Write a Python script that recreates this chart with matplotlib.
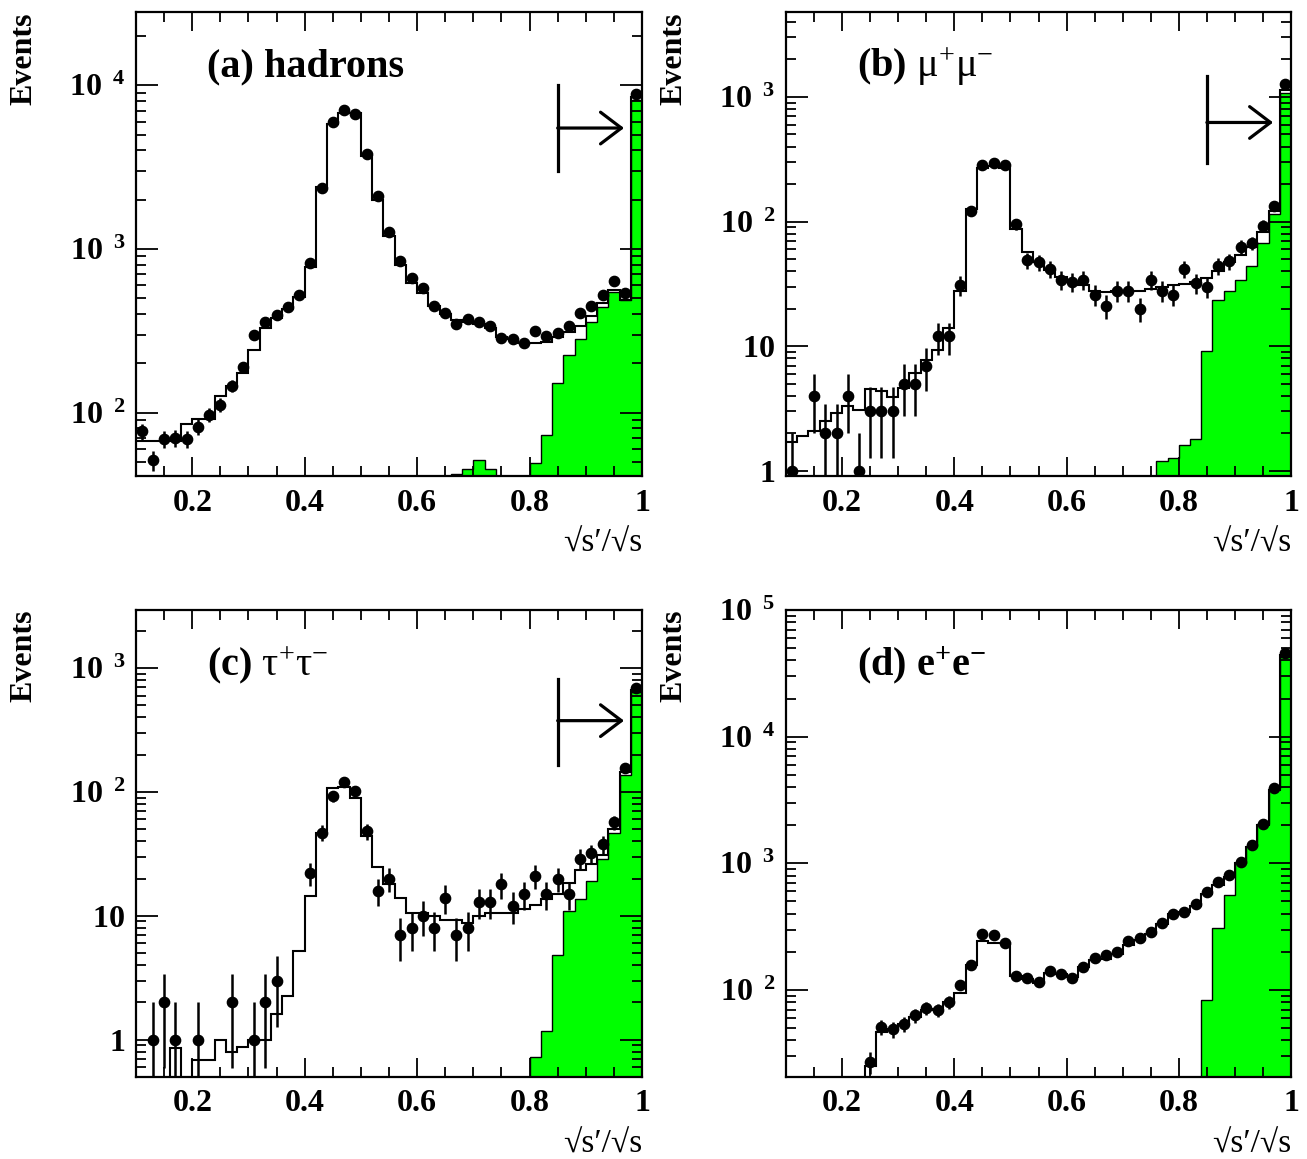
import numpy as np
import matplotlib
matplotlib.use("Agg")
import matplotlib.pyplot as plt
from matplotlib.ticker import LogLocator, MultipleLocator, FuncFormatter, NullFormatter

plt.rcParams["font.family"] = ["Liberation Serif", "DejaVu Serif"]
plt.rcParams["mathtext.fontset"] = "custom"
plt.rcParams["mathtext.rm"] = "Liberation Serif"
plt.rcParams["mathtext.bf"] = "Liberation Serif:bold"
plt.rcParams["mathtext.it"] = "Liberation Serif:italic"

# 45 bins of width 0.02 from 0.1 to 1.0 in sqrt(s')/sqrt(s)
edges = np.linspace(0.1, 1.0, 46)
centers = 0.5 * (edges[:-1] + edges[1:])

# ------------------------------
# (a) hadrons
# ------------------------------
hadrons_data = [77, 51, 69, 70, 69, 82, 97, 112, 146, 190,
                298, 360, 394, 442, 525, 817, 2355, 5980, 7060, 6720,
                3785, 2100, 1268, 838, 661, 580, 451, 404, 347, 374,
                358, 340, 284, 280, 268, 314, 294, 305, 339, 404,
                451, 520, 636, 541, 8810]
hadrons_mc = [67, 67, 67, 67, 85, 92, 92, 127, 145, 175,
              240, 330, 380, 430, 510, 780, 2400, 5800, 6800, 6800,
              3700, 2000, 1200, 800, 620, 540, 450, 400, 370, 360,
              350, 330, 290, 280, 265, 265, 270, 290, 310, 340,
              390, 470, 560, 490, 8500]
hadrons_bkg = [0] * 28 + [42, 45, 51, 45, 0, 0, 0,
                          49, 73, 152, 226, 283, 357, 443, 547, 488, 8100]

# ------------------------------
# (b) mu+ mu-
# ------------------------------
mumu_data = [1, 0, 4, 2, 2, 4, 1, 3, 3, 3,
             5, 5, 7, 12, 12, 31, 122, 283, 297, 283,
             96, 49, 47, 42, 34, 33, 34, 26, 21, 28,
             28, 20, 34, 28, 26, 42, 32, 30, 44, 48,
             63, 67, 93, 134, 1260]
mumu_mc = [1.7, 1.9, 2.1, 2.5, 2.9, 3.3, 3.1, 4.5, 4.4, 3.9,
           4.6, 6.1, 7.7, 9.3, 13.9, 27.7, 126, 268, 277, 268,
           87, 57, 47, 41, 36, 33, 31, 28, 27, 28,
           28, 28, 29, 30, 31, 31.6, 32.6, 35, 40, 47,
           54, 63, 83, 122, 1140]
mumu_bkg = [0] * 33 + [1.19, 1.28, 1.6, 1.8, 9.1, 23.5, 27.7, 34, 44, 67, 115, 1070]

# ------------------------------
# (c) tau+ tau-
# ------------------------------
tautau_data = [0, 1, 2, 1, 0, 1, 0, 0, 2, 0,
               1, 2, 3, 0, 0, 22, 47, 92, 120, 101,
               48, 16, 20, 7, 8, 10, 8, 14, 7, 8,
               13, 13, 18, 12, 15, 21, 15, 20, 15, 29,
               32, 38, 57, 157, 689]
tautau_mc = [0, 0, 0, 0.85, 0, 0.69, 0.69, 1.0, 0.80, 0.87,
             1.0, 1.0, 1.6, 2.24, 5.2, 14.5, 47, 107, 110, 90,
             44, 25, 18, 14, 10.5, 10.5, 10, 9.3, 9.3, 8.7,
             10, 10.5, 10.5, 10.5, 11.4, 12.2, 13.6, 15, 18.5, 23.5,
             26, 31, 50, 146, 665]
tautau_bkg = [0] * 35 + [0.72, 1.17, 4.8, 11, 13.6, 19, 29, 47, 136, 644]

# ------------------------------
# (d) e+ e-
# ------------------------------
ee_data = [0] * 7 + [27, 51, 49, 54, 63, 72, 69, 80, 110, 157,
                     277, 274, 234, 130, 124, 116, 142, 135, 124, 152,
                     179, 189, 198, 243, 259, 287, 340, 401, 415, 474,
                     593, 710, 812, 1028, 1391, 2040, 3935, 45600]
ee_mc = [0] * 7 + [25, 46.8, 49.4, 53.6, 61, 70, 71, 80, 95, 157,
                   243, 234, 234, 130, 122, 114, 137, 135, 126, 152,
                   173, 177, 192, 227, 250, 275, 330, 395, 410, 460,
                   570, 680, 780, 1000, 1350, 2000, 3800, 44000]
ee_bkg = [0] * 37 + [83, 307, 561, 1000, 1380, 2040, 3900, 42500]

panels = [
    (r"(a) hadrons", hadrons_data, hadrons_mc, hadrons_bkg, (41, 28000), (0.658, 0.842, 0.750)),
    (r"(b) $\mathrm{\mu^{+}\mu^{-}}$", mumu_data, mumu_mc, mumu_bkg, (0.91, 4800), (0.674, 0.862, 0.762)),
    (r"(c) $\mathrm{\tau^{+}\tau^{-}}$", tautau_data, tautau_mc, tautau_bkg, (0.5, 2950), (0.667, 0.852, 0.763)),
    (r"(d) e$^{\mathbf{+}}$e$^{\mathbf{-}}$", ee_data, ee_mc, ee_bkg, (20.6, 1.0001e5), None),
]

cut = 0.85
arrow_end = 0.968

boxes = [
    [0.1041, 0.5893, 0.3871, 0.4003],
    [0.6014, 0.5893, 0.3864, 0.4003],
    [0.1041, 0.0708, 0.3871, 0.4029],
    [0.6014, 0.0708, 0.3864, 0.4029],
]


def ylab(v, pos):
    e = int(round(np.log10(v)))
    if e == 0:
        return r"$\mathbf{1}\ \ \,$"
    if e == 1:
        return r"$\mathbf{10}\ \ \,$"
    return r"$\mathbf{10}^{\ \ \mathbf{%d}}$" % e


def xlab(v, pos):
    if abs(v - 1.0) < 1e-6:
        return "1"
    return "%.1f" % v


fig = plt.figure(figsize=(13.07, 11.59), dpi=100)

for box, (title, data, mc, bkg, ylim, arr) in zip(boxes, panels):
    ax = fig.add_axes(box)
    ax.set_yscale("log")
    floor = ylim[0] * 1e-3

    data = np.array(data, dtype=float)
    mc = np.array(mc, dtype=float)
    bkg = np.array(bkg, dtype=float)

    bkg_plot = np.where(bkg > 0, bkg, floor)
    mc_plot = np.where(mc > 0, mc, floor)

    # green background histogram
    ax.stairs(bkg_plot, edges, baseline=floor, fill=True, color="#00ff00", zorder=1)
    ax.stairs(bkg_plot, edges, baseline=floor, color="black", lw=1.0, zorder=2)
    # total MC
    ax.stairs(mc_plot, edges, baseline=None, color="black", lw=1.5, zorder=3)

    # data points with poisson errors
    m = data > 0
    n = data[m]
    err_lo = n - np.maximum(n - np.sqrt(n), floor)
    err_hi = np.sqrt(n)
    ax.errorbar(centers[m], n, yerr=[err_lo, err_hi], fmt="o", color="black",
                ms=7.4, elinewidth=1.8, capsize=0, zorder=4)

    ax.set_xlim(0.1, 1.0)
    ax.set_ylim(*ylim)

    ax.xaxis.set_major_locator(MultipleLocator(0.2))
    ax.xaxis.set_minor_locator(MultipleLocator(0.05))
    ax.xaxis.set_major_formatter(FuncFormatter(xlab))
    ax.yaxis.set_major_locator(LogLocator(base=10))
    ax.yaxis.set_minor_locator(LogLocator(base=10, subs=np.arange(2, 10)))
    ax.yaxis.set_major_formatter(FuncFormatter(ylab))
    ax.yaxis.set_minor_formatter(NullFormatter())

    ax.tick_params(which="both", direction="in", top=True, right=True, width=1.3)
    ax.tick_params(axis="x", which="major", length=14, pad=9)
    ax.tick_params(axis="x", which="minor", length=7)
    ax.tick_params(axis="y", which="major", length=16, pad=8)
    ax.tick_params(axis="y", which="minor", length=7)
    for lab in ax.get_xticklabels():
        lab.set_fontsize(23)
        lab.set_fontweight("bold")
    for lab in ax.get_yticklabels():
        lab.set_fontsize(23)
    for s in ax.spines.values():
        s.set_linewidth(1.6)

    ax.text(0.14, 0.882, title, transform=ax.transAxes, fontsize=29,
            fontweight="bold", ha="left", va="center")
    ax.text(-0.222, 1.0, "Events", transform=ax.transAxes, fontsize=23,
            fontweight="bold", rotation=90, ha="center", va="top")
    ax.text(1.0, -0.145, "\u221as\u2032/\u221as", transform=ax.transAxes,
            fontsize=24, ha="right", va="center")

    if arr is not None:
        trans = ax.get_xaxis_transform()
        ax.plot([cut, cut], [arr[0], arr[1]], transform=trans, color="black",
                lw=2.3, zorder=5)
        ax.annotate("", xy=(arrow_end, arr[2]), xytext=(cut, arr[2]),
                    xycoords=trans, textcoords=trans,
                    arrowprops=dict(arrowstyle="->,head_length=0.5,head_width=0.38",
                                    mutation_scale=30, lw=2.3, color="black",
                                    shrinkA=0, shrinkB=0), zorder=5)

fig.savefig("out.png", dpi=100)
